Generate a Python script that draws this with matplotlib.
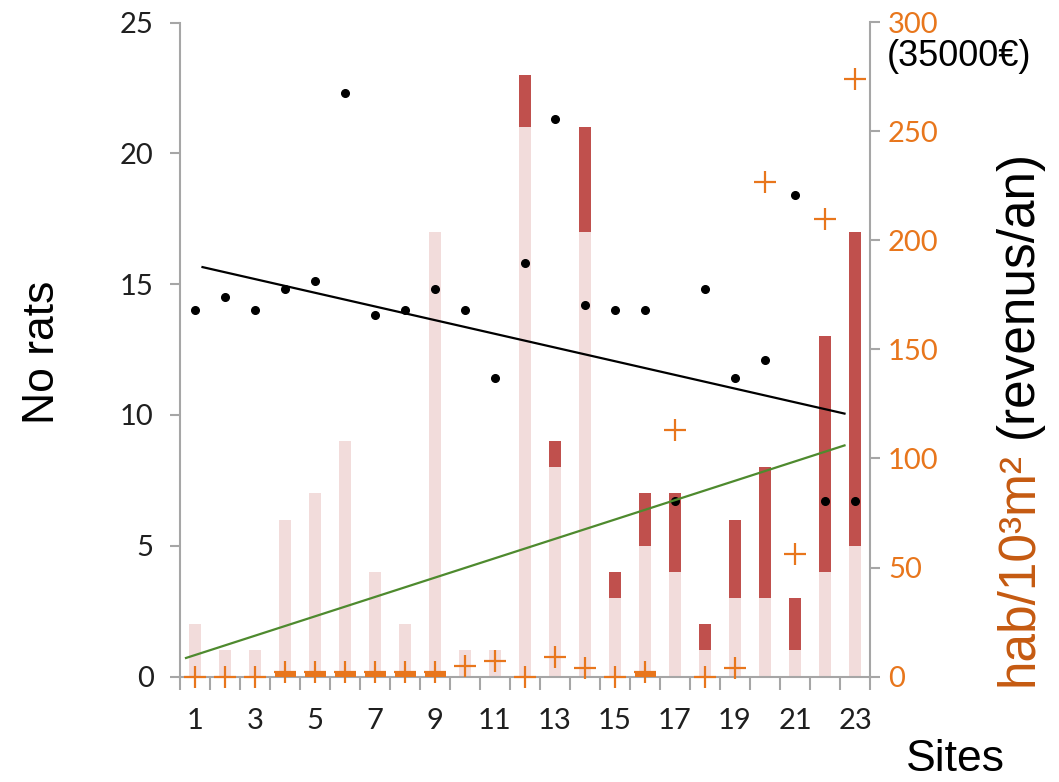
import matplotlib.pyplot as plt
import numpy as np

# data
sites = list(range(1, 24))
odd_sites = list(range(1, 24, 2))
bar_low = [2, 1, 1, 6, 7, 9, 4, 2, 17, 1, 1, 21, 8, 17, 3, 5, 4, 1, 3, 3, 1, 4, 5]
bar_high = [0, 0, 0, 0, 0, 0, 0, 0, 0, 0, 0, 2, 1, 4, 1, 2, 3, 1, 3, 5, 2, 9, 12]
rats = [14.0, 14.5, 14.0, 14.8, 15.1, 22.3, 13.8, 14.0, 14.8, 14.0, 11.4, 15.8,
        21.3, 14.2, 14.0, 14.0, 6.7, 14.8, 11.4, 12.1, 18.4, 6.7, 6.7]
hab = [0, 0, 0, 2, 2, 2, 2, 2, 2, 5, 7, 0, 9, 4, 0, 2, 113, 0, 4, 227, 56, 210, 274]
hab_base_sites = [4, 5, 6, 7, 8, 9, 16]
hab_base = [2, 2, 2, 2, 2, 2, 2]
trend_rats_x = [1.25, 22.65]
trend_rats_y = [15.65, 10.05]
trend_hab_x = [0.7, 22.65]
trend_hab_y = [8.5, 106]

grey = '#A6A6A6'
orange = '#E8761C'
tick_font = 'Lato'
title_font = 'Liberation Sans'

fig = plt.figure(figsize=(10.59, 7.82), dpi=100)
ax1 = fig.add_axes([180 / 1059, 105.5 / 782, 690 / 1059, 654 / 782])
ax2 = ax1.twinx()

ax1.bar(sites, bar_low, width=0.4, color='#F2DCDB', zorder=1)
ax1.bar(sites, bar_high, width=0.4, bottom=bar_low, color='#C0504D', zorder=1)
ax1.plot(trend_rats_x, trend_rats_y, color='black', lw=1.6, zorder=3)
ax1.plot(sites, rats, 'o', color='black', ms=5.5, zorder=4)

ax2.bar(hab_base_sites, hab_base, width=0.7, color=orange, zorder=2)
ax2.plot(trend_hab_x, trend_hab_y, color='#4E8A2E', lw=1.6, zorder=3)
ax2.plot(sites, hab, '+', color=orange, ms=16, mew=1.6, linestyle='none',
         clip_on=False, zorder=4)

ax1.set_xlim(0.5, 23.5)
ax1.set_ylim(0, 25)
ax2.set_ylim(0, 300)

ax1.set_yticks(range(0, 26, 5))
ax2.set_yticks(range(0, 301, 50))
ax1.set_xticks(odd_sites)
ax1.set_xticks(np.arange(0.5, 24, 1), minor=True)

for lab in ax1.get_yticklabels() + ax1.get_xticklabels():
    lab.set_family(tick_font)
for lab in ax2.get_yticklabels():
    lab.set_family(tick_font)

ax1.tick_params(axis='y', direction='out', length=7, width=1.5, color=grey,
                labelsize=21, labelcolor='#1F1F1F', pad=12)
ax1.tick_params(axis='x', which='major', length=0, labelsize=21,
                labelcolor='#1F1F1F', pad=23)
ax1.tick_params(axis='x', which='minor', direction='out', length=9, width=1.5,
                color=grey)
ax2.tick_params(axis='y', direction='out', length=7, width=1.5, color=grey,
                labelsize=21, labelcolor=orange, pad=6)

for s in ['top', 'right']:
    ax1.spines[s].set_visible(False)
for s in ['top', 'left', 'bottom']:
    ax2.spines[s].set_visible(False)
for s in ['left', 'bottom']:
    ax1.spines[s].set_color(grey)
    ax1.spines[s].set_linewidth(1.5)
ax2.spines['right'].set_color(grey)
ax2.spines['right'].set_linewidth(1.5)

fig.text(42 / 1059, 1 - 352 / 782, 'No rats', rotation=90, ha='center',
         va='center', fontsize=32, family=title_font)
fig.text(955 / 1059, 2 / 782, 'Sites', ha='center', va='bottom', fontsize=32,
         family=title_font)
fig.text(887 / 1059, 1 - 56 / 782, '(35000€)', ha='left', va='center',
         fontsize=26, family=title_font)

t1 = fig.text(1018 / 1059, 1 - 686 / 782, 'hab/10³m²', rotation=90,
              rotation_mode='anchor', ha='left', va='center', fontsize=37,
              color='#C55A11', family=title_font)
fig.canvas.draw()
bb = t1.get_window_extent()
fig.text(1018 / 1059, (bb.y1 + 14) / 782, '(revenus/an)', rotation=90,
         rotation_mode='anchor', ha='left', va='center', fontsize=37,
         color='black', family=title_font)

plt.savefig('out.png', dpi=100)
